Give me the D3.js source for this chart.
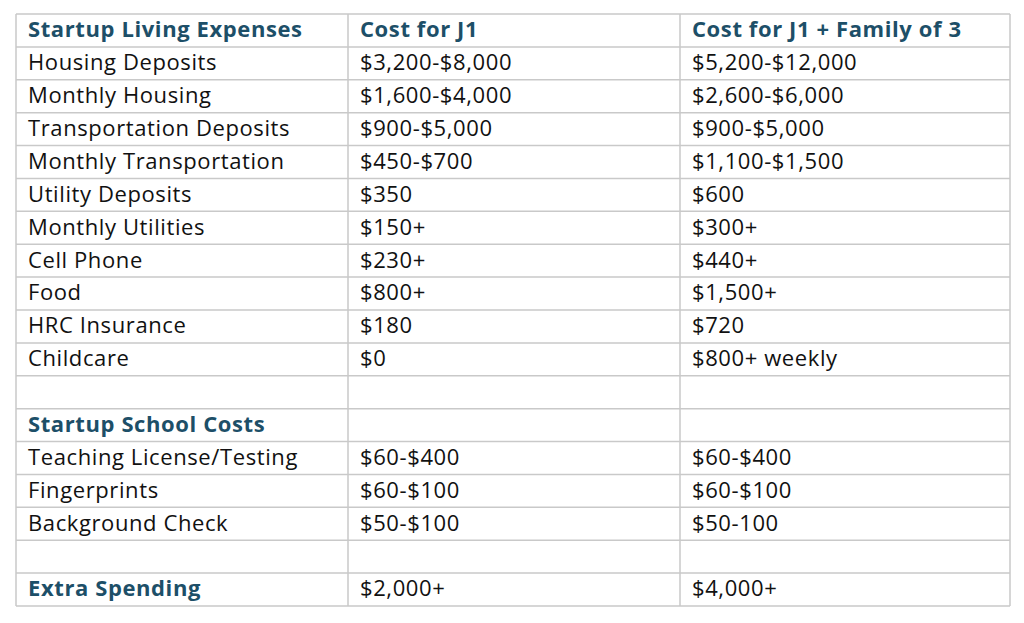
<!DOCTYPE html>
<html><head><meta charset="utf-8">
<script src="https://cdn.jsdelivr.net/npm/d3@7"></script>
<style>body{margin:0;background:#fff}</style></head>
<body><svg id="c" width="1024" height="623"></svg>
<script>
const col1 = ["Startup Living Expenses","Housing Deposits","Monthly Housing","Transportation Deposits","Monthly Transportation","Utility Deposits","Monthly Utilities","Cell Phone","Food","HRC Insurance","Childcare","","Startup School Costs","Teaching License/Testing","Fingerprints","Background Check","","Extra Spending"];
const col2 = ["Cost for J1","$3,200-$8,000","$1,600-$4,000","$900-$5,000","$450-$700","$350","$150+","$230+","$800+","$180","$0","","","$60-$400","$60-$100","$50-$100","","$2,000+"];
const col3 = ["Cost for J1 + Family of 3","$5,200-$12,000","$2,600-$6,000","$900-$5,000","$1,100-$1,500","$600","$300+","$440+","$1,500+","$720","$800+ weekly","","","$60-$400","$60-$100","$50-100","","$4,000+"];
const headRows = [0,12,17];

const svg = d3.select("#c");
const cols = [col1,col2,col3];
const x = d3.scaleOrdinal().domain([0,1,2,3]).range([16,348,680,1010]);
const y = d3.scaleBand().domain(d3.range(col1.length)).range([14,606]);
const g = svg.append("g");
cols.forEach((c,ci)=>{
  g.selectAll(null).data(c).join("text")
    .attr("x", x(ci)+12)
    .attr("y",(d,i)=>y(i)+y.bandwidth()/2+1)
    .attr("dominant-baseline","middle")
    .attr("font-family","'Open Sans', sans-serif")
    .attr("font-size",22)
    .attr("letter-spacing",0.6)
    .attr("font-weight",(d,i)=>(headRows.includes(i)&&(ci===0||i===0))?700:400)
    .attr("fill",(d,i)=>(headRows.includes(i)&&(ci===0||i===0))?"#1d4f68":"#111")
    .text(d=>d);
});
g.selectAll(null).data(d3.range(col1.length+1)).join("line")
  .attr("x1",16).attr("x2",1010)
  .attr("y1",i=>i<col1.length?y(i):606).attr("y2",i=>i<col1.length?y(i):606)
  .attr("stroke","#c9c9c9").attr("stroke-width",1.5);
g.selectAll(null).data([0,1,2,3]).join("line")
  .attr("x1",i=>x(i)).attr("x2",i=>x(i)).attr("y1",14).attr("y2",606)
  .attr("stroke","#c9c9c9").attr("stroke-width",1.5);
</script></body></html>
